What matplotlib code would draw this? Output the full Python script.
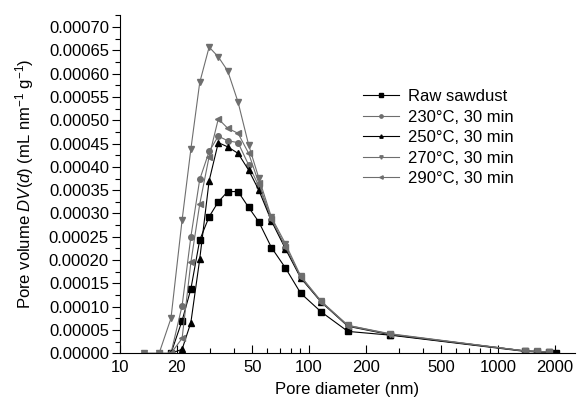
import numpy as np
import matplotlib
matplotlib.use('Agg')
import matplotlib.pyplot as plt
from matplotlib.ticker import FixedLocator, LogLocator, FormatStrFormatter, MultipleLocator, NullFormatter

plt.rcParams['font.family'] = ['Liberation Sans', 'DejaVu Sans']
plt.rcParams['mathtext.fontset'] = 'custom'
plt.rcParams['mathtext.rm'] = 'Liberation Sans'
plt.rcParams['mathtext.it'] = 'Liberation Sans:italic'

nan = np.nan
diameter = [13.4, 16.1, 18.6, 21.3, 23.7, 26.4, 29.6, 33.1, 37.1, 42.1, 47.9, 54.2,
            63.2, 75.0, 90.2, 115.7, 160.3, 268, 1390, 1600, 1850, 2030]

raw = [nan, nan, 0, 7.0e-5, 1.38e-4, 2.43e-4, 2.93e-4, 3.25e-4, 3.47e-4, 3.47e-4, 3.13e-4, 2.82e-4,
       2.27e-4, 1.83e-4, 1.29e-4, 8.9e-5, 4.7e-5, 3.9e-5, 4e-6, 3e-6, 2e-6, 1e-6]
t230 = [0, 0, 0, 1.02e-4, 2.50e-4, 3.73e-4, 4.33e-4, 4.66e-4, 4.56e-4, 4.52e-4, 4.04e-4, 3.59e-4,
        2.86e-4, 2.27e-4, 1.63e-4, 1.11e-4, 6.0e-5, 4.1e-5, 5e-6, 4e-6, 3e-6, nan]
t250 = [nan, nan, 0, 8.6e-6, 6.6e-5, 2.02e-4, 3.70e-4, 4.52e-4, 4.43e-4, 4.29e-4, 3.93e-4, 3.50e-4,
        2.84e-4, 2.24e-4, 1.62e-4, 1.10e-4, 5.8e-5, 4.0e-5, 5e-6, 4e-6, 3e-6, nan]
t270 = [0, 0, 7.5e-5, 2.86e-4, 4.38e-4, 5.81e-4, 6.57e-4, 6.36e-4, 6.06e-4, 5.39e-4, 4.47e-4, 3.76e-4,
        2.92e-4, 2.35e-4, 1.66e-4, 1.12e-4, 6.0e-5, 4.2e-5, 5e-6, 4e-6, 3e-6, nan]
t290 = [nan, 0, 0, 3.2e-5, 1.95e-4, 3.20e-4, 4.22e-4, 5.03e-4, 4.83e-4, 4.72e-4, 4.29e-4, 3.65e-4,
        2.88e-4, 2.29e-4, 1.64e-4, 1.11e-4, 5.9e-5, 4.1e-5, 5e-6, 4e-6, 3e-6, nan]

labels = ['Raw sawdust', '230°C, 30 min', '250°C, 30 min', '270°C, 30 min', '290°C, 30 min']
series = [raw, t230, t250, t270, t290]
markers = ['s', 'o', '^', 'v', '<']
colors = ['black', '#6e6e6e', 'black', '#6e6e6e', '#6e6e6e']

fig = plt.figure(figsize=(5.78, 4.03), dpi=100)
ax = fig.add_axes([0.2076, 0.1233, 0.7874, 0.8397])

for y, lab, m, c in zip(series, labels, markers, colors):
    ax.plot(diameter, y, marker=m, color=c, markersize=4.0, linewidth=0.8, label=lab)

ax.set_xscale('log')
ax.set_xlim(10, 2550)
ax.set_ylim(0, 0.000726)

ax.xaxis.set_major_locator(FixedLocator([10, 20, 50, 100, 200, 500, 1000, 2000]))
ax.xaxis.set_major_formatter(FormatStrFormatter('%d'))
ax.xaxis.set_minor_locator(LogLocator(base=10, subs=np.arange(2, 10), numticks=20))
ax.xaxis.set_minor_formatter(NullFormatter())
ax.yaxis.set_major_locator(MultipleLocator(0.00005))
ax.yaxis.set_minor_locator(MultipleLocator(0.000025))
ax.yaxis.set_major_formatter(FormatStrFormatter('%.5f'))

ax.tick_params(axis='x', which='both', direction='in', labelsize=12, pad=5)
ax.tick_params(axis='y', which='both', direction='out', labelsize=12, pad=2)
ax.tick_params(which='major', length=6, width=0.8)
ax.tick_params(which='minor', length=3.5, width=0.8)

ax.spines['top'].set_visible(False)
ax.spines['right'].set_visible(False)

ax.set_xlabel('Pore diameter (nm)', fontsize=12, labelpad=5)
ax.set_ylabel(r'Pore volume $DV$($d$) (mL nm$^{-1}$ g$^{-1}$)', fontsize=12, labelpad=9)

ax.legend(loc='upper left', bbox_to_anchor=(0.5, 0.825), frameon=False, fontsize=12,
          handlelength=2.2, handletextpad=0.5, markerscale=0.6, labelspacing=0.33)

fig.savefig('out.png', dpi=100)
